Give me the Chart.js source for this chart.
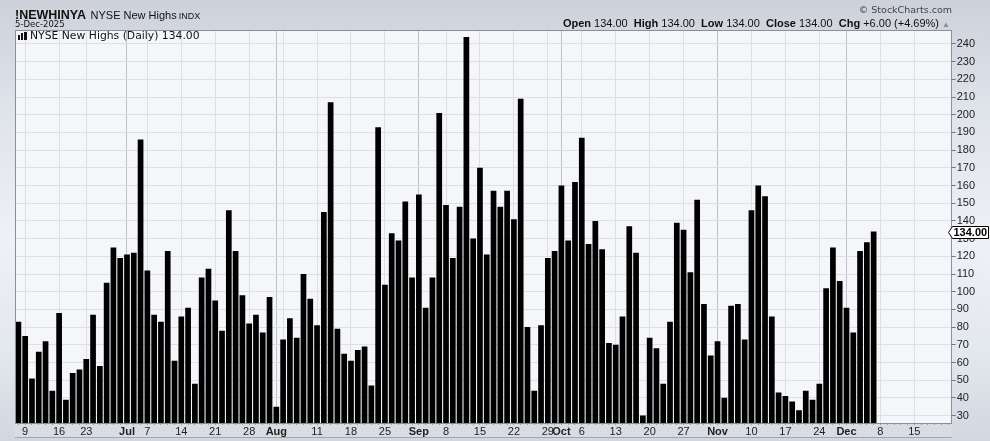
<!DOCTYPE html>
<html>
<head>
<meta charset="utf-8">
<script src="https://cdn.jsdelivr.net/npm/chart.js@4.4.1/dist/chart.umd.min.js"></script>
<style>
  html, body { margin: 0; padding: 0; }
  body {
    width: 990px; height: 441px; position: relative; overflow: hidden;
    background: linear-gradient(#cdd1da 0%, #dfe3ea 25%, #eef1f6 55%, #e3e7ee 80%, #d2d6de 100%);
    font-family: "Liberation Sans", Arial, sans-serif; color: #111;
  }
  #chart { position: absolute; left: 0; top: 0; }
  .txt { position: absolute; line-height: 1; white-space: pre; }
  .ico { position: absolute; background: #111; width: 2px; }
</style>
</head>
<body>
<canvas id="chart" width="990" height="441"></canvas>

<div class="txt" style="left:15px; top:6px;"><b style="font-size:12.5px">!NEWHINYA</b> <span style="font-size:11px">NYSE New Highs</span><span style="font-size:9px; margin-left:2px">INDX</span></div>
<div class="txt" style="left:15px; top:19.5px; font-family:'DejaVu Sans'; font-size:8.5px;">5-Dec-2025</div>
<div class="txt" style="right:38px; top:5px; font-family:'DejaVu Sans'; font-size:9.5px; color:#444;">© StockCharts.com</div>
<div class="txt" style="right:40px; top:18px; font-size:11px;"><b>Open</b> 134.00  <b>High</b> 134.00  <b>Low</b> 134.00  <b>Close</b> 134.00  <b>Chg</b> +6.00 (+4.69%) <span style="font-size:8px; color:#8a8f99">▲</span></div>

<span class="ico" style="left:18px; top:35px; height:5px;"></span>
<span class="ico" style="left:21px; top:33px; height:7px;"></span>
<span class="ico" style="left:24px; top:32px; height:8px; width:3px;"></span>
<div class="txt" style="left:30px; top:31px; font-family:'DejaVu Sans'; font-size:10.8px; color:#111;">NYSE New Highs (Daily) 134.00</div>

<script>
// trading sessions Jun 6 - Dec 5 2025, plus empty future slots to Dec 22
const sessions = [
  '6/6','6/9','6/10','6/11','6/12','6/13','6/16','6/17','6/18','6/20','6/23','6/24','6/25','6/26','6/27','6/30',
  '7/1','7/2','7/3','7/7','7/8','7/9','7/10','7/11','7/14','7/15','7/16','7/17','7/18','7/21','7/22','7/23','7/24','7/25','7/28','7/29','7/30','7/31',
  '8/1','8/4','8/5','8/6','8/7','8/8','8/11','8/12','8/13','8/14','8/15','8/18','8/19','8/20','8/21','8/22','8/25','8/26','8/27','8/28','8/29',
  '9/2','9/3','9/4','9/5','9/8','9/9','9/10','9/11','9/12','9/15','9/16','9/17','9/18','9/19','9/22','9/23','9/24','9/25','9/26','9/29','9/30',
  '10/1','10/2','10/3','10/6','10/7','10/8','10/9','10/10','10/13','10/14','10/15','10/16','10/17','10/20','10/21','10/22','10/23','10/24','10/27','10/28','10/29','10/30','10/31',
  '11/3','11/4','11/5','11/6','11/7','11/10','11/11','11/12','11/13','11/14','11/17','11/18','11/19','11/20','11/21','11/24','11/25','11/26','11/28',
  '12/1','12/2','12/3','12/4','12/5',
  '12/8','12/9','12/10','12/11','12/12','12/15','12/16','12/17','12/18','12/19','12/22'
];

const newHighs = [
  83, 75, 51, 66, 72, 44, 88, 39, 54, 56,
  62, 87, 58, 105, 125, 119, 121, 122, 186, 112,
  87, 83, 123, 61, 86, 91, 48, 108, 113, 95,
  78, 146, 123, 98, 82, 87, 77, 97, 35, 73,
  85, 74, 110, 96, 81, 145, 207, 79, 65, 61,
  67, 69, 47, 193, 104, 133, 129, 151, 108, 155,
  91, 108, 201, 149, 119, 148, 244, 130, 170, 121,
  157, 148, 157, 141, 209, 80, 44, 81, 119, 123,
  160, 129, 162, 187, 127, 140, 124, 71, 70, 86,
  137, 122, 30, 74, 68, 48, 83, 139, 135, 111,
  152, 93, 64, 72, 40, 92, 93, 73, 146, 160,
  154, 86, 43, 41, 38, 33, 44, 39, 48, 102,
  125, 106, 91, 77, 123, 128, 134
];

const tickDays = ['6/9','6/16','6/23','7/1','7/7','7/14','7/21','7/28','8/1','8/11','8/18','8/25','9/2','9/8','9/15','9/22','9/29','10/1','10/6','10/13','10/20','10/27','11/3','11/10','11/17','11/24','12/1','12/8','12/15'];
const tickText = ['9','16','23','Jul','7','14','21','28','Aug','11','18','25','Sep','8','15','22','29','Oct','6','13','20','27','Nov','10','17','24','Dec','8','15'];
const monthStarts = ['7/1','8/1','9/2','10/1','11/3','12/1'];
const extraGridDays = ['8/4'];
const yTicks = [30, 40, 50, 60, 70, 80, 90, 100, 110, 120, 130, 140, 150, 160, 170, 180, 190, 200, 210, 220, 230, 240];

const lastClose = newHighs[newHighs.length - 1];
const fontFamily = '"Liberation Sans", Arial, sans-serif';

const gridColorFor = (i) => {
  const d = sessions[i];
  if (monthStarts.includes(d)) return '#bfc2ca';
  if (tickDays.includes(d) || extraGridDays.includes(d)) return '#dcdfe5';
  return 'rgba(0,0,0,0)';
};

const panelPlugin = {
  id: 'panel',
  beforeDraw(chart) {
    const { ctx, chartArea: a } = chart;
    ctx.save();
    ctx.fillStyle = '#f4f6fa';
    ctx.fillRect(a.left, a.top, a.right - a.left, a.bottom - a.top);
    ctx.fillStyle = '#d9dce3';
    ctx.fillRect(a.left, a.bottom, a.right - a.left, 14);
    ctx.fillStyle = '#a2a6ae';
    ctx.fillRect(a.left, a.bottom + 14, a.right - a.left, 1);
    ctx.restore();
  },
  afterDraw(chart) {
    const { ctx, chartArea: a, scales } = chart;
    ctx.save();
    ctx.strokeStyle = '#8b8f98';
    ctx.lineWidth = 1;
    ctx.strokeRect(Math.round(a.left) + 0.5, Math.round(a.top) + 0.5,
      Math.round(a.right - a.left) - 1, Math.round(a.bottom - a.top));

    // last value tag on the right axis
    const y = Math.round(scales.y.getPixelForValue(lastClose)) + 0.5;
    const x0 = Math.round(a.right) - 3.5;
    ctx.beginPath();
    ctx.moveTo(x0, y);
    ctx.lineTo(x0 + 4, y - 6);
    ctx.lineTo(988.5, y - 6);
    ctx.lineTo(988.5, y + 6);
    ctx.lineTo(x0 + 4, y + 6);
    ctx.closePath();
    ctx.fillStyle = '#fff';
    ctx.fill();
    ctx.strokeStyle = '#000';
    ctx.stroke();
    ctx.fillStyle = '#000';
    ctx.font = 'bold 11px ' + fontFamily;
    ctx.textBaseline = 'middle';
    ctx.fillText(lastClose.toFixed(2), x0 + 5, y + 0.5);
    ctx.restore();
  }
};

const ctx = document.getElementById('chart');

new Chart(ctx, {
  type: 'bar',
  data: {
    labels: sessions,
    datasets: [{
      label: 'NYSE New Highs (Daily)',
      data: newHighs,
      backgroundColor: '#000',
      borderWidth: 0,
      barPercentage: 0.84,
      categoryPercentage: 1,
    }],
  },
  options: {
    responsive: false,
    animation: false,
    devicePixelRatio: 1,
    layout: { padding: { left: 15, top: 30, right: 0, bottom: 3 } },
    plugins: {
      legend: { display: false },
      tooltip: { enabled: false },
    },
    scales: {
      x: {
        offset: true,
        border: { display: false },
        grid: {
          offset: false,
          color: (c) => gridColorFor(c.index),
          tickColor: '#9a9ea7',
          tickLength: 2,
        },
        ticks: {
          autoSkip: false,
          maxRotation: 0,
          padding: 0,
          color: '#222',
          font: (c) => ({
            family: fontFamily,
            size: 11,
            weight: monthStarts.includes(sessions[c.index]) ? 'bold' : 'normal',
          }),
          callback: (v, i) => {
            const k = tickDays.indexOf(sessions[i]);
            return k >= 0 ? tickText[k] : '';
          },
        },
        afterFit: (s) => { s.height = 15; },
      },
      y: {
        position: 'right',
        min: 25.8,
        max: 247.9,
        afterBuildTicks: (s) => { s.ticks = yTicks.map((v) => ({ value: v })); },
        border: { display: false },
        grid: { color: '#dcdfe5', tickColor: '#777', tickLength: 4 },
        ticks: { padding: 1, color: '#222', font: { family: fontFamily, size: 11 } },
        afterFit: (s) => { s.width = 38.3; },
      },
    },
  },
  plugins: [panelPlugin],
});
</script>
</body>
</html>
